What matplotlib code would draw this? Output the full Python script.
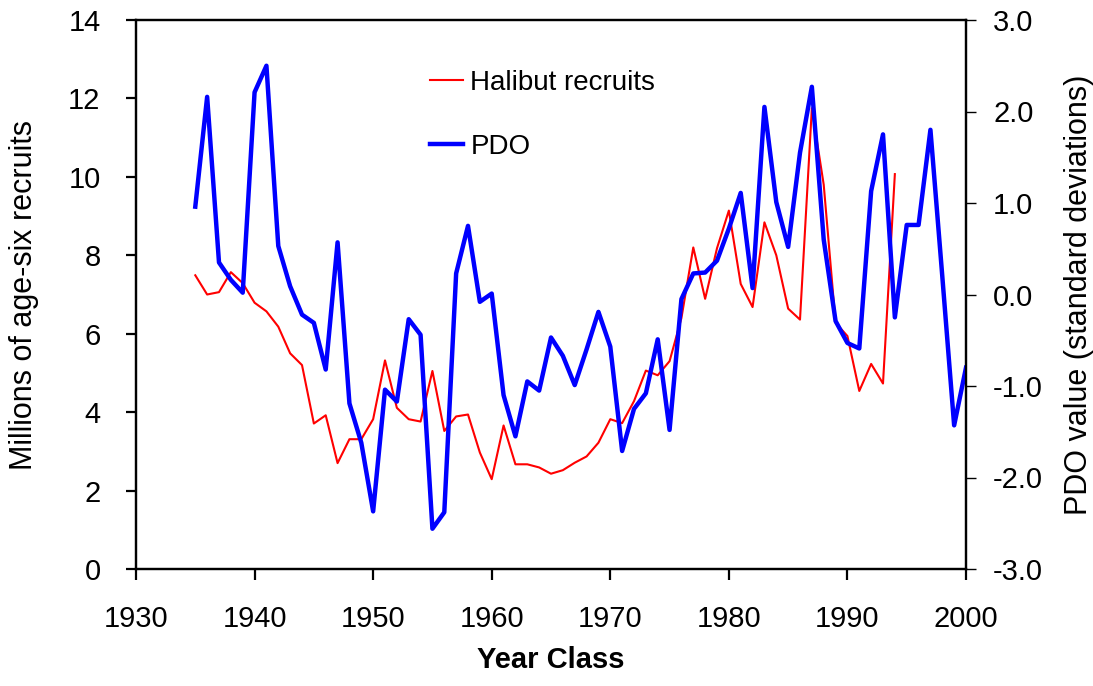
import matplotlib
matplotlib.use("Agg")
import matplotlib.pyplot as plt
from matplotlib.ticker import FormatStrFormatter

plt.rcParams['font.family'] = ['Liberation Sans', 'DejaVu Sans']

# halibut recruits (millions, left axis), year classes 1935-1994
halibut_years = list(range(1935, 1995))
halibut = [7.49, 7.00, 7.06, 7.57, 7.29, 6.79, 6.57, 6.18, 5.50, 5.20,
           3.71, 3.92, 2.70, 3.31, 3.31, 3.82, 5.32, 4.11, 3.82, 3.76,
           5.05, 3.52, 3.89, 3.94, 2.97, 2.29, 3.66, 2.67, 2.67, 2.59,
           2.43, 2.52, 2.71, 2.87, 3.22, 3.82, 3.72, 4.28, 5.06, 4.94,
           5.30, 6.40, 8.20, 6.89, 8.18, 9.14, 7.27, 6.68, 8.84, 8.00,
           6.64, 6.36, 11.75, 9.80, 6.28, 5.94, 4.54, 5.23, 4.73, 10.07]

# PDO index (standard deviations, right axis), 1935-2000
pdo_years = list(range(1935, 2001))
pdo = [0.96, 2.16, 0.35, 0.16, 0.02, 2.21, 2.50, 0.53, 0.09, -0.22,
       -0.31, -0.82, 0.57, -1.19, -1.62, -2.37, -1.04, -1.17, -0.27, -0.44,
       -2.56, -2.38, 0.23, 0.75, -0.08, 0.01, -1.10, -1.55, -0.95, -1.05,
       -0.47, -0.67, -0.99, -0.60, -0.19, -0.57, -1.71, -1.25, -1.08, -0.49,
       -1.48, -0.05, 0.23, 0.24, 0.37, 0.72, 1.11, 0.07, 2.05, 1.01,
       0.52, 1.55, 2.27, 0.60, -0.29, -0.53, -0.59, 1.13, 1.75, -0.25,
       0.76, 0.76, 1.80, 0.20, -1.43, -0.80]

tick_fs = 21
label_fs = 22
W, H = 1093, 686
fig = plt.figure(figsize=(W / 100, H / 100), dpi=100)
ax = fig.add_axes([136 / W, 1 - 569 / H, (966 - 136) / W, (569 - 20) / H])
ax2 = ax.twinx()

l1, = ax.plot(halibut_years, halibut, color='#ff0000', lw=1.5, label='Halibut recruits')
l2, = ax2.plot(pdo_years, pdo, color='#0000ff', lw=3.2, label='PDO')

ax.set_xlim(1930, 2000)
ax.set_ylim(0, 14)
ax2.set_ylim(-3, 3)
ax.set_xticks(range(1930, 2001, 10))
ax.set_yticks(range(0, 15, 2))
ax2.set_yticks([-3, -2, -1, 0, 1, 2, 3])
ax2.yaxis.set_major_formatter(FormatStrFormatter('%.1f'))

for a in (ax, ax2):
    for s in a.spines.values():
        s.set_linewidth(1.6)
ax.tick_params(axis='x', direction='out', length=8, width=1.6, pad=18, labelsize=tick_fs)
ax.tick_params(axis='y', direction='out', length=7.5, width=1.6, pad=18, labelsize=tick_fs)
ax2.tick_params(axis='y', direction='out', length=7.5, width=1.0, pad=12, labelsize=tick_fs)

ax.set_xlabel('Year Class', fontsize=21, fontweight='bold', labelpad=9)
ax.set_ylabel('Millions of age-six recruits', fontsize=label_fs)
ax2.set_ylabel('PDO value (standard deviations)', fontsize=label_fs)
ax.yaxis.set_label_coords((39 - 136) / 830, 0.5)
ax2.yaxis.set_label_coords((1064 - 136) / 830, 0.5)

ax2.legend(handles=[l1, l2], loc='upper left', bbox_to_anchor=((430 - 136) / 830, (569 - 70) / 549),
           frameon=False, fontsize=20, handlelength=1.2, handletextpad=0.25,
           labelspacing=1.35, borderpad=0, borderaxespad=0)

fig.savefig('out.png', dpi=100)
